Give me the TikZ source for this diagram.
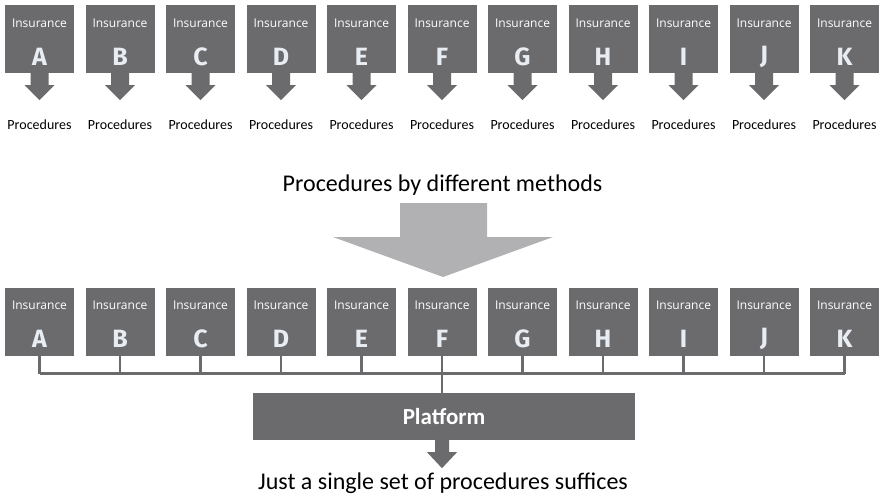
\documentclass[tikz,border=0pt]{standalone}
\usepackage{fontspec}
\setmainfont{Carlito}
\newfontfamily\insfont{Open Sans}
\newfontfamily\letfont{Fira Sans}
\usetikzlibrary{calc,positioning}

\definecolor{boxgray}{HTML}{6B6B6E}
\definecolor{biggray}{HTML}{B1B1B3}
\definecolor{letgray}{HTML}{E8EDF3}

% filled down arrow below a node: anchor, shaft width, head width, shaft length, head length
\newcommand{\downarr}[6][boxgray]{%
  \fill[#1] ($(#2)+(-#3/2,0)$) -- ++(#3,0) -- ++(0,#5) -- ++({(#4-#3)/2},0)
    -- ($(#2)+(0,#5+#6)$) -- ++({-#4/2},-#6) -- ++({(#4-#3)/2},0) -- cycle;}

\begin{document}
\begin{tikzpicture}[x=1pt,y=-1pt,
  insbox/.style={fill=boxgray,minimum width=69pt,minimum height=68pt,inner sep=0pt},
  instext/.style={text=white,font=\insfont\fontsize{12}{12}\selectfont,inner sep=0pt},
  lettext/.style={text=letgray,font=\letfont\bfseries\fontsize{25}{25}\selectfont,inner sep=0pt},
  proc/.style={font=\fontsize{14}{14}\selectfont,inner sep=0pt},
  caption/.style={font=\fontsize{24}{24}\selectfont,inner sep=0pt},
  bus/.style={draw=boxgray,line width=2.5pt}]
\useasboundingbox (0,0) rectangle (885,497);

% top row: each insurer with its own procedures
\foreach \l [count=\i from 0] in {A,...,K} {
  \node[insbox] (t\l) at ({39.5+80.5*\i},39) {};
  \node[instext] (ti\l) at ($(t\l.north)+(0,18)$) {Insurance};
  \node[lettext] (tl\l) at ($(t\l.north)+(0,52)$) {\l};
  \downarr{t\l.south}{18}{30}{12}{15}
  \node[proc] (p\l) at ($(t\l.south)+(0,51)$) {Procedures};
}

\node[caption] (diff) at (442.5,185) {Procedures by different methods};
\fill[biggray] (400,203) -- (487,203) -- (487,237) -- (553,237) -- (443,277)
  -- (333,237) -- (400,237) -- cycle;

% bottom row: insurers joined through one platform
\foreach \l [count=\i from 0] in {A,...,K} {
  \node[insbox] (b\l) at ({39.5+80.5*\i},321.5) {};
  \node[instext] (bi\l) at ($(b\l.north)+(0,18)$) {Insurance};
  \node[lettext] (bl\l) at ($(b\l.north)+(0,52)$) {\l};
  \draw[bus] (b\l.south) -- ++(0,18);
}
\draw[bus] ($(bA.south)+(0,18)$) -- ($(bK.south)+(0,18)$);

\node[insbox,minimum width=382pt,minimum height=47pt] (plat) at (444,416.5) {};
\node[text=white,font=\bfseries\fontsize{23}{23}\selectfont] at (plat) {Platform};
\draw[bus] (bF.south) -- (bF.south |- plat.north);
\downarr{bF.south |- plat.south}{14}{30}{12}{16}
\node[caption] (one) at (443,483) {Just a single set of procedures suffices};
\end{tikzpicture}
\end{document}
